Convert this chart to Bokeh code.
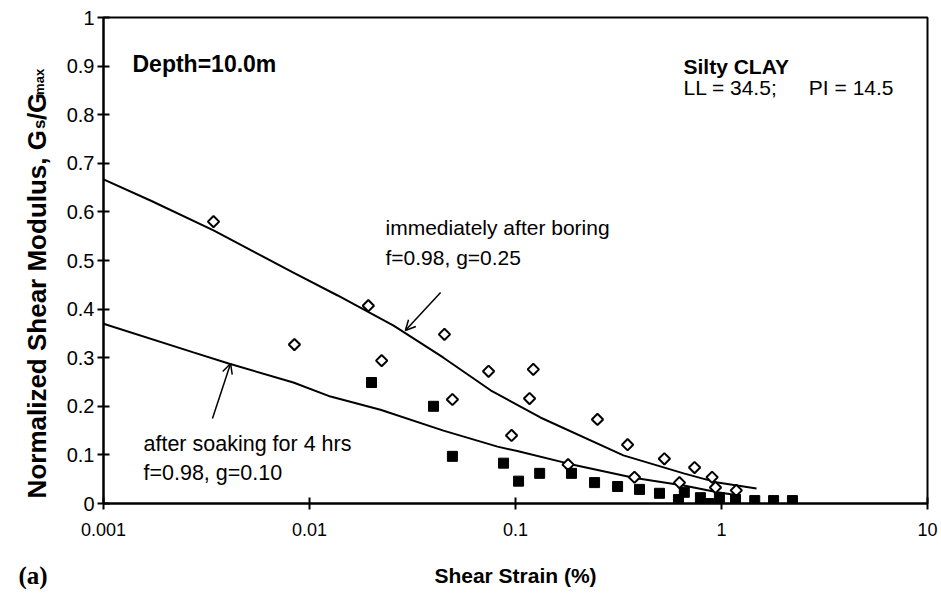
import math
from bokeh.plotting import figure
from bokeh.layouts import column, row
from bokeh.models import (Range1d, FixedTicker, CustomJSTickFormatter, Label,
                          Arrow, OpenHead)
from bokeh.core.properties import value
from bokeh.embed import file_html
from bokeh.resources import INLINE

# ---------------- data ----------------
x_ticks = [0.001, 0.01, 0.1, 1, 10]
y_ticks = [0, 0.1, 0.2, 0.3, 0.4, 0.5, 0.6, 0.7, 0.8, 0.9, 1.0]

# immediately after boring (open diamonds)
boring_strain = [0.00342, 0.00845, 0.0193, 0.0224, 0.0452, 0.0494, 0.074, 0.0957,
                 0.117, 0.122, 0.18, 0.25, 0.35, 0.378, 0.528, 0.625, 0.74, 0.90,
                 0.935, 1.18]
boring_ratio = [0.58, 0.327, 0.407, 0.294, 0.348, 0.214, 0.272, 0.140,
                0.216, 0.276, 0.080, 0.173, 0.121, 0.054, 0.092, 0.043, 0.074, 0.054,
                0.033, 0.027]

# after soaking for 4 hrs (filled squares)
soak_strain = [0.020, 0.040, 0.0494, 0.0875, 0.1035, 0.131, 0.187, 0.242, 0.313,
               0.40, 0.50, 0.618, 0.66, 0.79, 0.865, 0.977, 1.17, 1.45, 1.79, 2.21]
soak_ratio = [0.249, 0.200, 0.097, 0.083, 0.046, 0.062, 0.062, 0.043, 0.035,
              0.029, 0.021, 0.008, 0.023, 0.012, 0.0, 0.012, 0.008, 0.006, 0.006, 0.006]

# model curves
boring_curve_strain = [0.001, 0.0017, 0.00342, 0.00835, 0.0137, 0.0256, 0.0447, 0.0757,
                       0.132, 0.334, 0.655, 0.957, 1.48]
boring_curve_ratio = [0.667, 0.623, 0.562, 0.475, 0.428, 0.366, 0.300, 0.233,
                      0.177, 0.099, 0.062, 0.043, 0.031]
soak_curve_strain = [0.001, 0.00273, 0.00405, 0.00835, 0.01265, 0.0221, 0.0447, 0.0818,
                     0.102, 0.181, 0.374, 0.655, 0.957, 1.24]
soak_curve_ratio = [0.370, 0.311, 0.288, 0.249, 0.220, 0.193, 0.150, 0.117,
                    0.108, 0.082, 0.053, 0.037, 0.023, 0.016]

# arrows (start -> tip), data coordinates
arrow_boring = [(0.0433, 0.434), (0.0292, 0.356)]
arrow_soak = [(0.00338, 0.175), (0.00414, 0.288)]

# ---------------- layout geometry ----------------
FONT = "Liberation Sans"
W, H = 941, 598
LEFT_W = 58          # strip holding the y-axis title
MAIN_H = 540         # main figure height (frame 17..503)
BOT_H = H - MAIN_H   # strip holding the x-axis title and "(a)"

# ---------------- main figure ----------------
p = figure(width=W - LEFT_W, height=MAIN_H, x_axis_type="log",
           x_range=Range1d(0.001, 10), y_range=Range1d(0, 1),
           output_backend="svg", toolbar_location=None,
           min_border_left=103 - LEFT_W, min_border_right=14,
           min_border_top=17, min_border_bottom=MAIN_H - 503)
p.background_fill_color = "white"
p.border_fill_color = "white"
p.outline_line_color = "black"
p.outline_line_width = 2
p.xgrid.visible = False
p.ygrid.visible = False

p.xaxis.ticker = FixedTicker(ticks=x_ticks)
p.xaxis.formatter = CustomJSTickFormatter(code="return String(tick);")
p.yaxis.ticker = FixedTicker(ticks=y_ticks)
p.yaxis.formatter = CustomJSTickFormatter(code="return String(Number(tick.toFixed(1)));")

for ax in (p.xaxis, p.yaxis):
    ax.axis_line_width = 2
    ax.axis_line_color = "black"
    ax.major_tick_line_width = 2
    ax.major_tick_line_color = "black"
    ax.major_tick_in = 6
    ax.major_tick_out = 6
    ax.minor_tick_line_color = None
    ax.major_label_text_font = FONT
    ax.major_label_text_color = "black"

p.xaxis.major_label_text_font_size = "18px"
p.xaxis.major_label_standoff = 13
p.yaxis.major_label_text_font_size = "20px"
p.yaxis.major_label_standoff = 3

# curves
p.line(boring_curve_strain, boring_curve_ratio, line_color="black", line_width=2)
p.line(soak_curve_strain, soak_curve_ratio, line_color="black", line_width=2)

# markers
p.scatter(boring_strain, boring_ratio, marker="square", size=8, angle=math.pi / 4,
          fill_color="white", line_color="black", line_width=2)
p.scatter(soak_strain, soak_ratio, marker="square", size=10,
          fill_color="black", line_color="black", line_width=1)

# arrows
for (xs, ys), (xe, ye) in (arrow_boring, arrow_soak):
    p.add_layout(Arrow(end=OpenHead(size=10, line_width=1.5, line_color="black"),
                       x_start=xs, y_start=ys, x_end=xe, y_end=ye,
                       line_width=1.5, line_color="black"))

FL, FB = 103, 503  # frame left / bottom on the page


def add_text(text, cx, cy, size, bold=False, align="left"):
    p.add_layout(Label(x=cx - FL, y=FB - cy, x_units="screen", y_units="screen",
                       text=text, text_font=FONT, text_font_size=size,
                       text_font_style="bold" if bold else "normal",
                       text_align=align, text_baseline="middle",
                       text_color="black"))


add_text("Depth=10.0m", 132, 63, "23px", bold=True)
add_text("Silty CLAY", 683, 66, "21px", bold=True)
add_text("LL = 34.5;", 683, 87, "21px")
add_text("PI = 14.5", 893, 87, "21px", align="right")
add_text("immediately after boring", 385, 227, "21px")
add_text("f=0.98, g=0.25", 385, 257, "21px")
add_text("after soaking for 4 hrs", 143, 443, "21.5px")
add_text("f=0.98, g=0.10", 143, 472, "21.5px")


# ---------------- text strips (pixel coordinates) ----------------
def strip(width, height):
    f = figure(width=width, height=height, x_range=Range1d(0, width),
               y_range=Range1d(0, height), output_backend="svg",
               toolbar_location=None, x_axis_location=None, y_axis_location=None,
               min_border=0)
    f.outline_line_color = None
    f.grid.visible = False
    f.background_fill_color = "white"
    f.border_fill_color = "white"
    return f


def strip_text(f, text, x, y, size, align, baseline, angle=0.0,
               font=FONT, style="bold"):
    f.text(x=[x], y=[y], text=[text], angle=angle,
           text_font=value(font), text_font_size=value(size),
           text_font_style=value(style), text_align=value(align),
           text_baseline=value(baseline), text_color="black")


# y-axis title (rotated, with subscripts); page y -> strip y = MAIN_H - page_y
left = strip(LEFT_W, MAIN_H)
R = math.pi / 2
strip_text(left, "Normalized Shear Modulus, G", 36, MAIN_H - 125, "26px",
           "right", "alphabetic", R)
strip_text(left, "s", 39, MAIN_H - 124, "17px", "left", "alphabetic", R)
strip_text(left, "/G", 36, MAIN_H - 114, "26px", "left", "alphabetic", R)
strip_text(left, "max", 39, MAIN_H - 86, "13px", "left", "alphabetic", R)

# x-axis title and panel tag; page y -> strip y = H - page_y
bottom = strip(W, BOT_H)
strip_text(bottom, "Shear Strain (%)", 515, H - 575, "21px", "center", "middle")
strip_text(bottom, "(a)", 18, H - 575, "25px", "left", "middle",
           font="Liberation Serif")

layout = column(row(left, p, spacing=0), bottom, spacing=0)

open("out.html", "w").write(file_html(layout, INLINE))
